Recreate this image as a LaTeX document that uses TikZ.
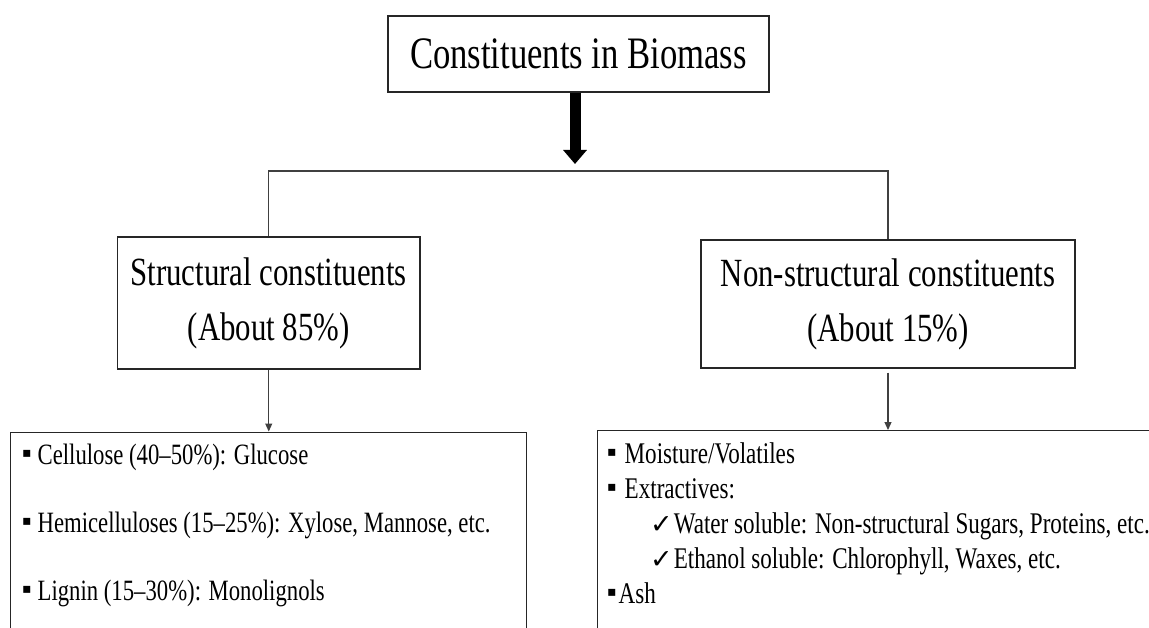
\documentclass[tikz,border=0pt]{standalone}
\usepackage{fontspec}
\setmainfont{Liberation Serif}[FakeStretch=0.77]
\newfontfamily\dejavu{DejaVu Sans}
\usetikzlibrary{arrows.meta}
\newcommand{\bul}{\raisebox{6.5pt}{\dejavu\fontsize{14pt}{14pt}\selectfont ▪}}
\newcommand{\chk}{{\dejavu\fontsize{27pt}{27pt}\selectfont ✓}}
\begin{document}
\begin{tikzpicture}[x=1pt,y=-1pt,
  box/.style={draw=black!85, line width=1.3pt, inner sep=0pt},
  conn/.style={draw=black!75, line width=1.2pt},
  smalltip/.style={-{Triangle[width=7pt,length=8pt]}},
  txt/.style={anchor=base west, inner sep=0pt},
  bigfont/.style={font=\fontsize{45pt}{50pt}\selectfont},
  midfont/.style={font=\fontsize{40pt}{55pt}\selectfont},
  lfont/.style={font=\fontsize{29.5pt}{36pt}\selectfont},
  rfont/.style={font=\fontsize{30pt}{34pt}\selectfont}]
\useasboundingbox (0,0) rectangle (1149,628);
\clip (0,0) rectangle (1149,628);
\fill[white] (0,0) rectangle (1149,628);

\node[box, bigfont, minimum width=381pt, minimum height=76pt] (title) at (578.5,54) {Constituents in Biomass};
\node[box, midfont, align=center, minimum width=302.5pt, minimum height=132pt] (s) at (268.75,303) {Structural constituents\\(About 85\%)};
\node[box, midfont, align=center, minimum width=374pt, minimum height=128pt] (n) at (888,304) {Non-structural constituents\\(About 15\%)};
\node[box, anchor=north west, minimum width=516.4pt, minimum height=300pt] (lb) at (9.6,431.5) {};
\node[box, anchor=north west, minimum width=700pt, minimum height=300pt] (rb) at (596.6,430) {};

\coordinate (tip) at (575,164);
\draw[line width=11pt, black, -{Triangle[width=23pt,length=14pt]}] (title.south -| tip) -- (tip);

\coordinate (hl) at (268.75,171);
\coordinate (hr) at (888,171);
\draw[conn] (s.north) -- (hl) -- (hr) -- (n.north);
\draw[conn, smalltip] (s.south) -- (s.south |- lb.north);
\draw[conn, smalltip] ([yshift=-4pt]n.south) -- (n.south |- rb.north);

\node[txt, lfont] (l1) at (22,464) {\bul\hspace{6pt}Cellulose (40--50\%): Glucose};
\node[txt, lfont] (l2) at (22,532) {\bul\hspace{6pt}Hemicelluloses (15--25\%): Xylose, Mannose, etc.};
\node[txt, lfont] (l3) at (22,600) {\bul\hspace{6pt}Lignin (15--30\%): Monolignols};

\node[txt, rfont] (r1) at (607,463) {\bul\hspace{8pt}Moisture/Volatiles};
\node[txt, rfont] (r2) at (607,498) {\bul\hspace{8pt}Extractives:};
\node[txt, rfont] (r3) at (650,533) {\chk\hspace{1pt}Water soluble: Non-structural Sugars, Proteins, etc.};
\node[txt, rfont] (r4) at (650,568) {\chk\hspace{1pt}Ethanol soluble: Chlorophyll, Waxes, etc.};
\node[txt, rfont] (r5) at (607,603) {\bul\hspace{2pt}Ash};
\end{tikzpicture}
\end{document}
